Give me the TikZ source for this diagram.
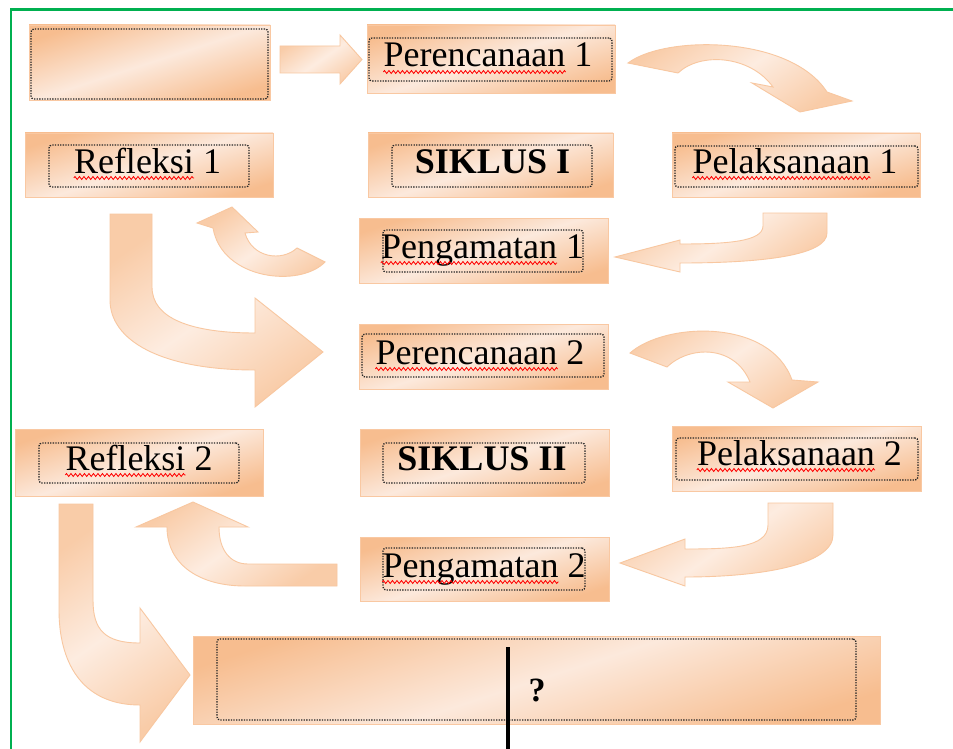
\documentclass[tikz,border=0pt]{standalone}
\usepackage{fontspec}
\setmainfont{Liberation Serif}
\usetikzlibrary{decorations.pathmorphing}
\definecolor{peachD}{RGB}{247,189,143}
\definecolor{peachL}{RGB}{252,233,220}
\definecolor{boxedge}{RGB}{249,200,162}
\definecolor{arrD}{RGB}{249,204,168}
\definecolor{arrL}{RGB}{253,236,224}
\definecolor{arredge}{RGB}{248,199,160}
\definecolor{frame}{RGB}{0,176,80}
\tikzset{
 outerbox/.style={draw=boxedge, line width=0.9pt, top color=peachD, bottom color=peachD, middle color=peachL, shading angle=18, inner sep=0},
 innerbox/.style={draw=black!85, line width=1.3pt, dash pattern=on 1.3pt off 1.3pt, rounded corners=3pt, inner sep=0},
 blockarrow/.style={draw=arredge, line width=0.9pt, top color=arrD, bottom color=arrD, middle color=arrL, shading angle=35},
 lab/.style={font=\fontsize{36}{40}\selectfont, inner sep=0, anchor=base},
 boldlab/.style={font=\fontsize{36}{40}\selectfont\bfseries, inner sep=0, anchor=base},
 ghost/.style={font=\fontsize{36}{40}\selectfont, inner sep=0, anchor=base west},
 wave/.style={draw=red, line width=0.8pt, decorate, decoration={zigzag, segment length=4.5pt, amplitude=1.5pt}}
}
\begin{document}
\begin{tikzpicture}[x=1pt,y=-1pt]
\useasboundingbox (0,0) rectangle (953,749);
\fill[white] (0,0) rectangle (953,749);
% frame
\draw[frame, line width=2.5pt] (11,749) -- (11,9.5) -- (953,9.5);

% ---------- block arrows ----------
% A straight right
\path[blockarrow] (280,46) -- (340,46) -- (340,35) -- (362,59.5) -- (340,84) -- (340,73) -- (280,73) -- cycle;
% B curved down (top right)
\path[blockarrow] (628,63) .. controls (665,35) and (790,35) .. (827,92) -- (852,101) -- (800,112) -- (752,83) -- (773,87) .. controls (750,55) and (700,52) .. (678,73) -- cycle;
% C bent left (Pelaksanaan 1 -> Pengamatan 1)
\path[blockarrow] (763,213) -- (827,213) -- (827,233) .. controls (827,255) and (765,263) .. (680,263) -- (680,272) -- (615,257) -- (680,240) -- (680,244) .. controls (725,244) and (763,242) .. (763,226) -- cycle;
% D small U-turn (Pengamatan 1 -> Refleksi 1)
\path[blockarrow] (325,262) .. controls (300,288) and (222,280) .. (213,228) -- (197,223) -- (232,207) -- (258,232) -- (245,233) .. controls (252,258) and (282,262) .. (297,248) -- cycle;
% E big L (Refleksi 1 -> Perencanaan 2)
\path[blockarrow] (110,214) -- (152,214) -- (152,287) .. controls (152,318) and (190,333) .. (255,333) -- (255,298) -- (323,352) -- (255,407) -- (255,370) .. controls (160,370) and (110,340) .. (110,300) -- cycle;
% F curved down (Perencanaan 2 -> Pelaksanaan 2)
\path[blockarrow] (630,353) .. controls (665,322) and (770,318) .. (792,380) -- (818,382) -- (773,408) -- (728,382) -- (750,382) .. controls (735,345) and (690,345) .. (667,367) -- cycle;
% G bent left (Pelaksanaan 2 -> Pengamatan 2)
\path[blockarrow] (768,503) -- (833,503) -- (833,535) .. controls (833,565) and (760,577) .. (685,577) -- (685,586) -- (620,563) -- (685,539) -- (685,549) .. controls (730,549) and (768,548) .. (768,525) -- cycle;
% H up-turn (Pengamatan 2 -> Refleksi 2)
\path[blockarrow] (337,564) -- (337,586) -- (245,586) .. controls (200,586) and (167,565) .. (167,527) -- (136,527) -- (193,502) -- (248,527) -- (219,527) .. controls (219,550) and (230,564) .. (248,564) -- cycle;
% I big L (Refleksi 2 -> bottom box)
\path[blockarrow] (59,504) -- (93,504) -- (93,600) .. controls (93,630) and (105,643) .. (140,643) -- (140,608) -- (190,675) -- (140,742) -- (140,705) .. controls (80,705) and (59,660) .. (59,610) -- cycle;

% ---------- boxes ----------
% empty top-left
\node[outerbox, minimum width=241pt, minimum height=75pt] (b0) at (149.5,62.5) {};
\node[innerbox, minimum width=237pt, minimum height=70pt] (b0i) at (149.5,64) {};

% Perencanaan 1
\node[outerbox, minimum width=248pt, minimum height=68pt] (p1) at (491,59) {};
\node[innerbox, minimum width=243pt, minimum height=43pt] (p1i) at (490.5,59.5) {};
\node[lab] (p1t) at (488,67) {Perencanaan 1};
\node[ghost] (p1w) at (p1t.base west) {\phantom{Perencanaan}};
\draw[wave] ([yshift=-5pt]p1w.base west) -- ([yshift=-5pt]p1w.base east);

% Refleksi 1
\node[outerbox, minimum width=248pt, minimum height=64pt] (r1) at (149,165) {};
\node[innerbox, minimum width=200pt, minimum height=42pt] (r1i) at (149,166) {};
\node[lab] (r1t) at (147.5,173) {Refleksi 1};
\node[ghost] (r1w) at (r1t.base west) {\phantom{Refleksi}};
\draw[wave] ([yshift=-5pt]r1w.base west) -- ([yshift=-5pt]r1w.base east);

% SIKLUS I
\node[outerbox, minimum width=245pt, minimum height=64pt] (s1) at (490.5,165) {};
\node[innerbox, minimum width=200pt, minimum height=42pt] (s1i) at (492,166) {};
\node[boldlab] (s1t) at (492.5,173) {SIKLUS I};

% Pelaksanaan 1
\node[outerbox, minimum width=248pt, minimum height=64pt] (l1) at (796,165) {};
\node[innerbox, minimum width=243pt, minimum height=41pt] (l1i) at (796.5,166.5) {};
\node[lab] (l1t) at (795,173) {Pelaksanaan 1};
\node[ghost] (l1w) at (l1t.base west) {\phantom{Pelaksanaan}};
\draw[wave] ([yshift=-5pt]l1w.base west) -- ([yshift=-5pt]l1w.base east);

% Pengamatan 1
\node[outerbox, minimum width=249pt, minimum height=65pt] (g1) at (483.5,250.5) {};
\node[innerbox, minimum width=200pt, minimum height=42pt] (g1i) at (483,251) {};
\node[lab] (g1t) at (482.5,258) {Pengamatan 1};
\node[ghost] (g1w) at (g1t.base west) {\phantom{Pengamatan}};
\draw[wave] ([yshift=-5pt]g1w.base west) -- ([yshift=-5pt]g1w.base east);

% Perencanaan 2
\node[outerbox, minimum width=249pt, minimum height=65pt] (p2) at (483.5,356.5) {};
\node[innerbox, minimum width=242pt, minimum height=43pt] (p2i) at (483,355.5) {};
\node[lab] (p2t) at (480,364) {Perencanaan 2};
\node[ghost] (p2w) at (p2t.base west) {\phantom{Perencanaan}};
\draw[wave] ([yshift=-5pt]p2w.base west) -- ([yshift=-5pt]p2w.base east);

% Refleksi 2
\node[outerbox, minimum width=248pt, minimum height=67pt] (r2) at (139,462.5) {};
\node[innerbox, minimum width=200pt, minimum height=40pt] (r2i) at (139,463) {};
\node[lab] (r2t) at (139,470) {Refleksi 2};
\node[ghost] (r2w) at (r2t.base west) {\phantom{Refleksi}};
\draw[wave] ([yshift=-5pt]r2w.base west) -- ([yshift=-5pt]r2w.base east);

% SIKLUS II
\node[outerbox, minimum width=249pt, minimum height=67pt] (s2) at (484.5,462.5) {};
\node[innerbox, minimum width=202pt, minimum height=40pt] (s2i) at (484,463) {};
\node[boldlab] (s2t) at (482,470) {SIKLUS II};

% Pelaksanaan 2
\node[outerbox, minimum width=249pt, minimum height=65pt] (l2) at (796.5,458.5) {};
\node[innerbox, minimum width=242pt, minimum height=42pt] (l2i) at (797,459) {};
\node[lab] (l2t) at (799.5,465) {Pelaksanaan 2};
\node[ghost] (l2w) at (l2t.base west) {\phantom{Pelaksanaan}};
\draw[wave] ([yshift=-5pt]l2w.base west) -- ([yshift=-5pt]l2w.base east);

% Pengamatan 2
\node[outerbox, minimum width=249pt, minimum height=64pt] (g2) at (484.5,569) {};
\node[innerbox, minimum width=202pt, minimum height=42pt] (g2i) at (484,569) {};
\node[lab] (g2t) at (484,577) {Pengamatan 2};
\node[ghost] (g2w) at (g2t.base west) {\phantom{Pengamatan}};
\draw[wave] ([yshift=-5pt]g2w.base west) -- ([yshift=-5pt]g2w.base east);

% bottom box
\node[outerbox, minimum width=687pt, minimum height=88pt] (bb) at (536.5,680) {};
\node[innerbox, minimum width=639pt, minimum height=81pt] (bbi) at (536.5,679.5) {};
\node[font=\fontsize{34}{38}\selectfont\bfseries, inner sep=0, anchor=base] (q) at (537,701) {?};
\coordinate (cbot) at (508,749);
\coordinate (ctop) at (508,647);
\draw[black, line width=4.5pt] (ctop) -- (cbot);
\end{tikzpicture}
\end{document}
